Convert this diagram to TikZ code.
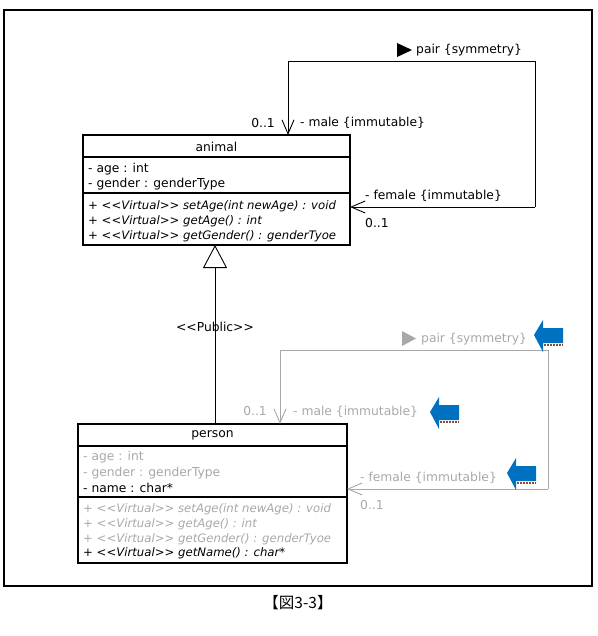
\documentclass[tikz,border=0pt]{standalone}
\usepackage{fontspec}
\setmainfont{DejaVu Sans}[Ligatures=NoCommon]
\newfontfamily\cjkfont{Noto Sans CJK JP}
\usetikzlibrary{arrows.meta}
\definecolor{umlgray}{HTML}{A8A8A8}
\definecolor{hintblue}{HTML}{0070C0}
\definecolor{brick}{HTML}{8B4A3A}
\newcommand\stereo[1]{<\kern0pt<\kern0pt#1>\kern0pt>}
\tikzset{
  classbox/.style={draw=black, line width=1.6pt, rectangle, inner sep=0pt},
  sep/.style={line width=1.6pt},
  hdr/.style={font=\fontsize{12.3}{13}\selectfont, inner sep=0pt},
  attr/.style={font=\fontsize{12.3}{13}\selectfont, anchor=west, inner sep=0pt},
  meth/.style={font=\fontsize{11.7}{12}\selectfont\itshape, anchor=west, inner sep=0pt},
  lbl/.style={font=\fontsize{12.3}{13}\selectfont, inner sep=0pt},
  ghost/.style={text=umlgray},
  assoc/.style={line width=0.9pt, -{Straight Barb[length=14pt,width=12pt,line width=0.9pt]}},
  gen/.style={line width=0.9pt, -{Triangle[open,length=23pt,width=24pt,line width=0.9pt,fill=white]}},
  hint/.pic={
    \fill[hintblue] (0,0) -- (9,-15) -- (9,-7) -- (29,-7) -- (29,8) -- (9,8) -- (9,17) -- cycle;
    \draw[brick, line width=2pt, dash pattern=on 2pt off 1pt] (10,9.5) -- (29,9.5);
  }
}
\begin{document}
\begin{tikzpicture}[x=1pt,y=-1pt]
\useasboundingbox (0,0) rectangle (597,636);
% outer frame
\draw[line width=1.4pt] (4,10) rectangle (592,586);
\node[font=\cjkfont\fontsize{15.5}{17}\selectfont] (caption) at (298,603) {【図3-3】};

% ---------- animal ----------
\node[classbox, minimum width=267pt, minimum height=110pt] (animal) at (216.5,190) {};
\draw[sep] (83,157) -- (350,157);
\draw[sep] (83,193) -- (350,193);
\node[hdr] (aname) at (216.5,146.5) {animal};
\node[attr] (a1) at (88,169.5) {- age : int};
\node[attr] (a2) at (88,184) {- gender : genderType};
\node[meth] (am1) at (88,206) {+ \stereo{Virtual} setAge(int newAge) : void};
\node[meth] (am2) at (88,221) {+ \stereo{Virtual} getAge() : int};
\node[meth] (am3) at (88,236) {+ \stereo{Virtual} getGender() : genderTyoe};

% ---------- person ----------
\node[classbox, minimum width=269pt, minimum height=139pt] (person) at (212.5,493.5) {};
\draw[sep] (78,446) -- (347,446);
\draw[sep] (78,497) -- (347,497);
\node[hdr] (pname) at (212.5,435.5) {person};
\node[attr, ghost] (p1) at (83,457.5) {- age : int};
\node[attr, ghost] (p2) at (83,473) {- gender : genderType};
\node[attr] (p3) at (83,488) {- name : char*};
\node[meth, ghost] (pm1) at (83,509) {+ \stereo{Virtual} setAge(int newAge) : void};
\node[meth, ghost] (pm2) at (83,524) {+ \stereo{Virtual} getAge() : int};
\node[meth, ghost] (pm3) at (83,539) {+ \stereo{Virtual} getGender() : genderTyoe};
\node[meth] (pm4) at (83,553) {+ \stereo{Virtual} getName() : char*};

% ---------- generalization ----------
\node[lbl] (pub) at (215,327) {\stereo{Public}};
\coordinate (gtop) at (215,245);
\coordinate (gbot) at (215,424);
\draw[gen] (gbot) -- (gtop);

% ---------- animal self association ----------
\coordinate (aTop) at (288,135);
\coordinate (aRight) at (350,207);
\draw[assoc] (535,207) -- (535,61) -- (288,61) -- (aTop);
\draw[assoc] (535,207) -- (aRight);
\fill (397,43) -- (412,50) -- (397,57) -- cycle;
\node[lbl, anchor=west] (apair) at (416,50) {pair \{symmetry\}};
\node[lbl, anchor=east] (amul1) at (275,123) {0..1};
\node[lbl, anchor=west] (amale) at (300,123) {- male \{immutable\}};
\node[lbl, anchor=west] (afem) at (365,195.5) {- female \{immutable\}};
\node[lbl, anchor=west] (amul2) at (365,223) {0..1};

% ---------- person self association (gray) ----------
\coordinate (pTop) at (280,424);
\coordinate (pRight) at (347,489);
\draw[assoc, umlgray] (548,489) -- (548,350) -- (280,350) -- (pTop);
\draw[assoc, umlgray] (548,489) -- (pRight);
\fill[umlgray] (402,331) -- (416,338.5) -- (402,346) -- cycle;
\node[lbl, ghost, anchor=west] (ppair) at (421,339.5) {pair \{symmetry\}};
\node[lbl, ghost, anchor=east] (pmul1) at (267,411.5) {0..1};
\node[lbl, ghost, anchor=west] (pmale) at (293,411.5) {- male \{immutable\}};
\node[lbl, ghost, anchor=west] (pfem) at (360,477.5) {- female \{immutable\}};
\node[lbl, ghost, anchor=west] (pmul2) at (360,505) {0..1};

% ---------- hint arrows ----------
\pic at (534,335) {hint};
\pic at (430,412) {hint};
\pic at (507,473) {hint};
\end{tikzpicture}
\end{document}
